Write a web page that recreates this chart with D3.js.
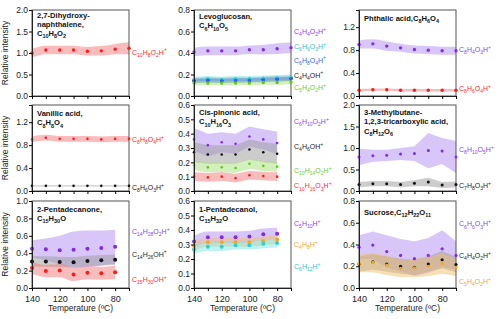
<!DOCTYPE html>
<html>
<head>
<meta charset="utf-8">
<script src="https://cdn.jsdelivr.net/npm/d3@7"></script>
<style>
  body { margin: 0; background: #fff; }
  text { font-family: "Liberation Sans", Arial, sans-serif; }
</style>
</head>
<body>
<div id="chart"></div>
<script>
// temperatures (ºC)
var temps8 = [140, 130, 120, 110, 100, 90, 80, 70];
var temps7 = [140, 130, 120, 110, 100, 90, 80];
var xTickLabels = [140, 120, 100, 80];

// 2,7-dihydroxynaphthalene
var dhn_C10H8O2H = [1.00, 1.07, 1.07, 1.07, 1.04, 1.05, 1.09, 1.11];
var dhn_C10H8O2H_err = [0.10, 0.10, 0.10, 0.10, 0.10, 0.11, 0.12, 0.14];

// levoglucosan
var levo_C4H4O2H = [0.41, 0.42, 0.42, 0.42, 0.43, 0.43, 0.44, 0.45];
var levo_C4H4O2H_err = [0.04, 0.04, 0.04, 0.04, 0.04, 0.045, 0.05, 0.05];
var levo_C4H4OH = [0.145, 0.15, 0.145, 0.15, 0.15, 0.155, 0.16, 0.165];
var levo_C4H4OH_err = [0.025, 0.025, 0.025, 0.025, 0.025, 0.025, 0.025, 0.025];
var levo_C6H6O3H = [0.155, 0.16, 0.155, 0.16, 0.16, 0.165, 0.17, 0.175];
var levo_C6H6O3H_err = [0.025, 0.025, 0.025, 0.025, 0.025, 0.025, 0.025, 0.025];
var levo_C6H8O4H = [0.14, 0.145, 0.14, 0.145, 0.145, 0.15, 0.155, 0.16];
var levo_C6H8O4H_err = [0.02, 0.02, 0.02, 0.02, 0.02, 0.02, 0.02, 0.02];
var levo_C5H4O2H = [0.12, 0.12, 0.12, 0.12, 0.12, 0.125, 0.125, 0.13];
var levo_C5H4O2H_err = [0.02, 0.02, 0.02, 0.02, 0.02, 0.02, 0.02, 0.02];

// phthalic acid
var phth_C8H4O3H = [0.90, 0.91, 0.87, 0.84, 0.81, 0.80, 0.79, 0.79];
var phth_C8H4O3H_err = [0.07, 0.08, 0.08, 0.07, 0.07, 0.07, 0.07, 0.07];
var phth_C8H6O4H = [0.10, 0.11, 0.11, 0.10, 0.10, 0.10, 0.10, 0.10];
var phth_C8H6O4H_err = [0.02, 0.02, 0.02, 0.02, 0.02, 0.02, 0.02, 0.02];

// vanillic acid
var van_C8H8O4H = [0.90, 0.93, 0.91, 0.91, 0.91, 0.90, 0.91, 0.91];
var van_C8H8O4H_err = [0.05, 0.05, 0.05, 0.05, 0.05, 0.05, 0.05, 0.05];
var van_C8H6O3H = [0.09, 0.09, 0.09, 0.09, 0.09, 0.09, 0.09, 0.09];
var van_C8H6O3H_err = [0.012, 0.012, 0.012, 0.012, 0.012, 0.012, 0.012, 0.012];

// cis-pinonic acid
var pin_C6H10O2H = [0.36, 0.32, 0.34, 0.33, 0.38, 0.36, 0.335];
var pin_C6H10O2H_err = [0.08, 0.08, 0.07, 0.07, 0.07, 0.07, 0.08];
var pin_C4H6OH = [0.27, 0.255, 0.255, 0.255, 0.29, 0.27, 0.26];
var pin_C4H6OH_err = [0.07, 0.065, 0.065, 0.065, 0.07, 0.07, 0.07];
var pin_C10H14O2H = [0.18, 0.165, 0.165, 0.16, 0.19, 0.175, 0.17];
var pin_C10H14O2H_err = [0.035, 0.035, 0.035, 0.035, 0.035, 0.035, 0.035];
var pin_C10H16O3H = [0.10, 0.095, 0.10, 0.09, 0.11, 0.105, 0.10];
var pin_C10H16O3H_err = [0.03, 0.03, 0.03, 0.03, 0.03, 0.03, 0.03];

// 3-methylbutane-1,2,3-tricarboxylic acid
var mbtca_C8H10O5H = [0.79, 0.82, 0.83, 0.86, 0.87, 0.94, 0.93, 0.79];
var mbtca_C8H10O5H_err = [0.19, 0.14, 0.13, 0.14, 0.17, 0.41, 0.30, 0.37];
var mbtca_C7H8O3H = [0.15, 0.17, 0.17, 0.15, 0.18, 0.21, 0.14, 0.15];
var mbtca_C7H8O3H_err = [0.06, 0.06, 0.06, 0.06, 0.07, 0.10, 0.07, 0.07];

// 2-pentadecanone
var pdone_C14H28O2H = [0.45, 0.445, 0.435, 0.44, 0.45, 0.46, 0.475];
var pdone_C14H28O2H_err = [0.10, 0.125, 0.165, 0.21, 0.21, 0.20, 0.195];
var pdone_C14H26OH = [0.305, 0.305, 0.30, 0.295, 0.31, 0.32, 0.325];
var pdone_C14H26OH_err = [0.06, 0.06, 0.06, 0.06, 0.06, 0.06, 0.06];
var pdone_C15H30OH = [0.23, 0.195, 0.20, 0.155, 0.175, 0.17, 0.18];
var pdone_C15H30OH_err = [0.07, 0.07, 0.075, 0.075, 0.075, 0.075, 0.08];

// 1-pentadecanol
var pdol_C5H10H = [0.32, 0.35, 0.35, 0.35, 0.355, 0.37, 0.375];
var pdol_C5H10H_err = [0.04, 0.04, 0.04, 0.04, 0.04, 0.04, 0.04];
var pdol_C4H8H = [0.29, 0.315, 0.315, 0.315, 0.315, 0.325, 0.335];
var pdol_C4H8H_err = [0.03, 0.03, 0.03, 0.03, 0.03, 0.03, 0.03];
var pdol_C6H12H = [0.265, 0.285, 0.285, 0.295, 0.295, 0.305, 0.31];
var pdol_C6H12H_err = [0.03, 0.03, 0.03, 0.03, 0.03, 0.03, 0.03];

// sucrose
var suc_C6H6O3H = [0.375, 0.395, 0.335, 0.30, 0.27, 0.30, 0.36, 0.30];
var suc_C6H6O3H_err = [0.11, 0.125, 0.15, 0.15, 0.16, 0.16, 0.17, 0.13];
var suc_C4H4O2H = [0.22, 0.24, 0.22, 0.20, 0.19, 0.22, 0.26, 0.215];
var suc_C4H4O2H_err = [0.07, 0.07, 0.07, 0.07, 0.07, 0.07, 0.08, 0.07];
var suc_C5H4O2H = [0.225, 0.235, 0.21, 0.18, 0.185, 0.20, 0.225, 0.19];
var suc_C5H4O2H_err = [0.08, 0.09, 0.09, 0.08, 0.085, 0.09, 0.095, 0.08];

var colors = {
    purple: {dot: "#7f2be8", band: "#b48df2", label: "#8a3ff0"},
    red:    {dot: "#ff1a1a", band: "#f47a7a", label: "#ff2a2a"},
    black:  {dot: "#111111", band: "#9a9a9a", label: "#222222"},
    cyan:   {dot: "#2ecfcf", band: "#7fe6e6", label: "#33c6c6"},
    blue:   {dot: "#2b5cff", band: "#4f7fe0", label: "#3366ff"},
    green:  {dot: "#5ccc1c", band: "#a8e07a", label: "#66cc33"},
    orange: {dot: "#f5a623", band: "#f0c070", label: "#f5a623"}
};

var colLeft = [32, 194, 359];
var rowTop = [10, 105, 201];
var rowHeight = [86, 86, 87];
var plotWidth = 97;

var panels = [
  {col: 0, row: 0, ymax: 2.0, yticks: [0, 0.5, 1, 1.5, 2], temps: temps8, r: 1.7, titleY: 7.5,
   title: ["2,7-Dihydroxy-", "naphthalene,"], formula: "C10H8O2", inline: false,
   series: [
     {name: "C10H8O2H+", v: dhn_C10H8O2H, e: dhn_C10H8O2H_err, c: "red", ly: 1.02}]},
  {col: 1, row: 0, ymax: 0.8, yticks: [0, 0.2, 0.4, 0.6, 0.8], temps: temps8, r: 1.7, titleY: 9,
   title: ["Levoglucosan,"], formula: "C6H10O5", inline: false,
   series: [
     {name: "C4H4O2H+", v: levo_C4H4O2H, e: levo_C4H4O2H_err, c: "purple", ly: 0.60},
     {name: "C4H4OH+", v: levo_C4H4OH, e: levo_C4H4OH_err, c: "black", ly: 0.195},
     {name: "C6H6O3H+", v: levo_C6H6O3H, e: levo_C6H6O3H_err, c: "cyan", ly: 0.457},
     {name: "C6H8O4H+", v: levo_C6H8O4H, e: levo_C6H8O4H_err, c: "blue", ly: 0.334},
     {name: "C5H4O2H+", v: levo_C5H4O2H, e: levo_C5H4O2H_err, c: "green", ly: 0.077}]},
  {col: 2, row: 0, ymax: 1.5, yticks: [0, 0.4, 0.8, 1.2], temps: temps8, r: 1.7, titleY: 11,
   title: ["Phthalic acid,"], formula: "C8H6O4", inline: true,
   series: [
     {name: "C8H4O3H+", v: phth_C8H4O3H, e: phth_C8H4O3H_err, c: "purple", ly: 0.81},
     {name: "C8H6O4H+", v: phth_C8H6O4H, e: phth_C8H6O4H_err, c: "red", ly: 0.13}]},
  {col: 0, row: 1, ymax: 1.5, yticks: [0, 0.4, 0.8, 1.2], temps: temps8, r: 1.3, titleY: 11,
   title: ["Vanillic acid,"], formula: "C8H8O4", inline: false,
   series: [
     {name: "C8H8O4H+", v: van_C8H8O4H, e: van_C8H8O4H_err, c: "red", ly: 0.90},
     {name: "C8H6O3H+", v: van_C8H6O3H, e: van_C8H6O3H_err, c: "black", ly: 0.06}]},
  {col: 1, row: 1, ymax: 0.6, yticks: [0, 0.1, 0.2, 0.3, 0.4, 0.5, 0.6], temps: temps7, r: 1.3, titleY: 10,
   linear: true,
   title: ["Cis-pinonic acid,"], formula: "C10H16O3", inline: false,
   series: [
     {name: "C6H10O2H+", v: pin_C6H10O2H, e: pin_C6H10O2H_err, c: "purple", ly: 0.483},
     {name: "C4H6OH+", v: pin_C4H6OH, e: pin_C4H6OH_err, c: "black", ly: 0.308},
     {name: "C10H14O2H+", v: pin_C10H14O2H, e: pin_C10H14O2H_err, c: "green", ly: 0.145},
     {name: "C10H16O3H+", v: pin_C10H16O3H, e: pin_C10H16O3H_err, c: "red", ly: 0.035}]},
  {col: 2, row: 1, ymax: 2.0, yticks: [0, 0.5, 1, 1.5, 2], temps: temps8, r: 1.5, titleY: 10,
   linear: true,
   title: ["3-Methylbutane-", "1,2,3-tricarboxylic acid,"], formula: "C8H12O6", inline: false,
   series: [
     {name: "C8H10O5H+", v: mbtca_C8H10O5H, e: mbtca_C8H10O5H_err, c: "purple", ly: 0.97},
     {name: "C7H8O3H+", v: mbtca_C7H8O3H, e: mbtca_C7H8O3H_err, c: "black", ly: 0.13}]},
  {col: 0, row: 2, ymax: 1.0, yticks: [0, 0.2, 0.4, 0.6, 0.8, 1.0], temps: temps7, r: 2.0, titleY: 10.5,
   title: ["2-Pentadecanone,"], formula: "C15H30O", inline: false,
   series: [
     {name: "C14H28O2H+", v: pdone_C14H28O2H, e: pdone_C14H28O2H_err, c: "purple", ly: 0.648},
     {name: "C14H26OH+", v: pdone_C14H26OH, e: pdone_C14H26OH_err, c: "black", ly: 0.39},
     {name: "C15H30OH+", v: pdone_C15H30OH, e: pdone_C15H30OH_err, c: "red", ly: 0.095}]},
  {col: 1, row: 2, ymax: 0.6, yticks: [0, 0.1, 0.2, 0.3, 0.4, 0.5, 0.6], temps: temps7, r: 2.0, titleY: 10.5,
   title: ["1-Pentadecanol,"], formula: "C15H32O", inline: false,
   series: [
     {name: "C5H10H+", v: pdol_C5H10H, e: pdol_C5H10H_err, c: "purple", ly: 0.447},
     {name: "C4H8H+", v: pdol_C4H8H, e: pdol_C4H8H_err, c: "orange", ly: 0.298},
     {name: "C6H12H+", v: pdol_C6H12H, e: pdol_C6H12H_err, c: "cyan", ly: 0.148}]},
  {col: 2, row: 2, ymax: 0.8, yticks: [0, 0.2, 0.4, 0.6, 0.8], temps: temps8, r: 1.6, titleY: 14,
   linear: true,
   title: ["Sucrose,"], formula: "C12H22O11", inline: true,
   series: [
     {name: "C6H6O3H+", v: suc_C6H6O3H, e: suc_C6H6O3H_err, c: "purple", ly: 0.589},
     {name: "C4H4O2H+", v: suc_C4H4O2H, e: suc_C4H4O2H_err, c: "black", ly: 0.296},
     {name: "C5H4O2H+", v: suc_C5H4O2H, e: suc_C5H4O2H_err, c: "orange", ly: 0.06}]}
];

// digits -> subscript, "+" -> superscript
function addFormula(textSel, f, fs) {
    var shift = 0;
    f.match(/\d+|\+|[^\d+]+/g).forEach(function(tok) {
        var target = 0, size = fs;
        if (/^\d+$/.test(tok)) { target = fs * 0.3; size = fs * 0.72; }
        else if (tok === "+") { target = -fs * 0.45; size = fs * 0.72; }
        textSel.append("tspan")
            .attr("dy", target - shift)
            .attr("font-size", size)
            .text(tok);
        shift = target;
    });
}

var svg = d3.select("#chart").append("svg")
    .attr("width", 500)
    .attr("height", 319);

panels.forEach(function(p) {
    var x0 = colLeft[p.col], y0 = rowTop[p.row], h = rowHeight[p.row];

    var x = d3.scaleLinear().domain([140, 70]).range([0, plotWidth]);
    var y = d3.scaleLinear().domain([0, p.ymax]).range([h, 0]);

    var g = svg.append("g").attr("transform", `translate(${x0}, ${y0})`);

    var curve = p.linear ? d3.curveLinear : d3.curveMonotoneX;
    var area = d3.area()
        .x(d => x(d.t))
        .y0(d => y(d.v - d.e))
        .y1(d => y(d.v + d.e))
        .curve(curve);

    var rows = p.series.map(s => p.temps.map((t, i) => ({t: t, v: s.v[i], e: s.e[i]})));

    // bands
    p.series.forEach(function(s, k) {
        g.append("path")
            .datum(rows[k])
            .attr("d", area)
            .attr("fill", colors[s.c].band)
            .attr("fill-opacity", 0.5)
            .attr("stroke", "none");
    });

    // frame
    g.append("rect")
        .attr("width", plotWidth)
        .attr("height", h)
        .attr("fill", "none")
        .attr("stroke", "#555")
        .attr("stroke-width", 1);

    // dots
    p.series.forEach(function(s, k) {
        g.selectAll(null)
            .data(rows[k])
            .enter()
            .append("circle")
            .attr("cx", d => x(d.t))
            .attr("cy", d => y(d.v))
            .attr("r", p.r)
            .attr("fill", colors[s.c].dot);
    });

    // axes
    var leftAxis = d3.axisLeft(y)
        .tickValues(p.yticks)
        .tickSize(3)
        .tickPadding(1)
        .tickFormat(d3.format(".1f"));
    g.append("g").call(leftAxis)
        .call(a => a.selectAll("text").attr("font-size", 8.5).attr("fill", "#222").attr("font-family", null))
        .call(a => a.select(".domain").attr("stroke", "#222"));

    var bottomAxis = d3.axisBottom(x)
        .tickValues(temps8)
        .tickSize(3)
        .tickPadding(5)
        .tickFormat(d => (p.row === 2 && xTickLabels.indexOf(d) >= 0) ? d : "");
    g.append("g")
        .attr("transform", `translate(0, ${h})`)
        .call(bottomAxis)
        .call(a => a.selectAll("text").attr("font-size", 9).attr("fill", "#222").attr("font-family", null))
        .call(a => a.select(".domain").attr("stroke", "#222"));

    // title
    var lh = 9.3;
    p.title.forEach(function(line, i) {
        var t = g.append("text")
            .attr("x", 5)
            .attr("y", p.titleY + i * lh)
            .attr("font-size", 7.6)
            .attr("font-weight", "bold")
            .attr("fill", "#111")
            .text(line);
        if (p.inline && i === p.title.length - 1) addFormula(t, p.formula, 7.6);
    });
    if (!p.inline) {
        var ft = g.append("text")
            .attr("x", 5)
            .attr("y", p.titleY + p.title.length * lh)
            .attr("font-size", 7.6)
            .attr("font-weight", "bold")
            .attr("fill", "#111");
        addFormula(ft, p.formula, 7.6);
    }

    // series labels
    p.series.forEach(function(s) {
        var t = g.append("text")
            .attr("x", plotWidth + 3)
            .attr("y", y(s.ly) + 2.5)
            .attr("font-size", 7)
            .attr("fill", colors[s.c].label);
        addFormula(t, s.name, 7);
    });

    if (p.col === 0) {
        g.append("text")
            .attr("transform", `translate(${-24}, ${h / 2}) rotate(-90)`)
            .attr("text-anchor", "middle")
            .attr("font-size", 8.5)
            .attr("fill", "#222")
            .text("Relative intensity");
    }
    if (p.row === 2) {
        g.append("text")
            .attr("x", plotWidth / 2)
            .attr("y", h + 23)
            .attr("text-anchor", "middle")
            .attr("font-size", 8.5)
            .attr("fill", "#222")
            .text("Temperature (ºC)");
    }
});
</script>
</body>
</html>
